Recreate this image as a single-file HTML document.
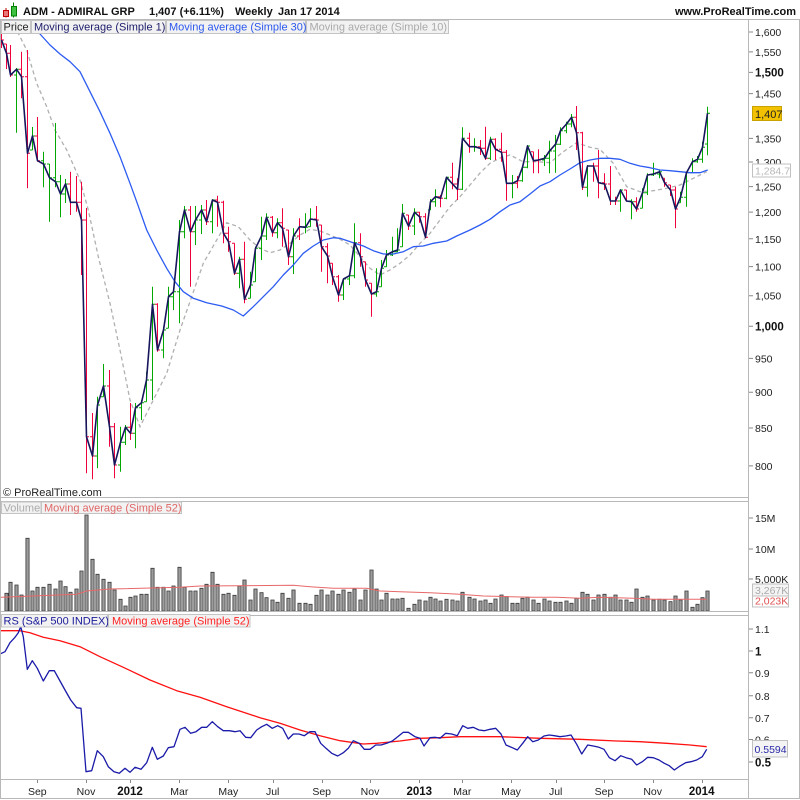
<!DOCTYPE html>
<html><head><meta charset="utf-8">
<style>
html,body{margin:0;padding:0;background:#fff;}
svg{display:block;font-family:"Liberation Sans",Arial,sans-serif;}
.ax{font-size:10.5px;fill:#222;}
.axb{font-size:11.5px;fill:#111;font-weight:bold;}
.lg{font-size:11px;}
</style></head>
<body>
<svg width="800" height="800" viewBox="0 0 800 800" xmlns="http://www.w3.org/2000/svg">
<defs>
<clipPath id="cp"><rect x="1" y="20" width="747" height="477"/></clipPath>
<clipPath id="cv"><rect x="1" y="502" width="747" height="109"/></clipPath>
<clipPath id="cr"><rect x="1" y="616" width="747" height="163"/></clipPath>
</defs>
<rect x="0" y="0" width="800" height="800" fill="#fff"/>

<!-- title -->
<line x1="6" y1="8" x2="6" y2="17.5" stroke="#c00000" stroke-width="1"/>
<rect x="3.5" y="10.5" width="5" height="6" fill="#e87878" stroke="#c00000" stroke-width="1"/>
<line x1="13.5" y1="2.5" x2="13.5" y2="17.5" stroke="#008000" stroke-width="1"/>
<rect x="11.5" y="6.5" width="5" height="9.5" fill="#40c040" stroke="#008000" stroke-width="1"/>
<text x="23" y="15" font-size="11" font-weight="bold" fill="#111">ADM - ADMIRAL GRP</text>
<text x="149" y="15" font-size="11" font-weight="bold" fill="#111">1,407 (+6.11%)</text>
<text x="235" y="15" font-size="11" font-weight="bold" fill="#111">Weekly</text>
<text x="278" y="15" font-size="11" font-weight="bold" fill="#111">Jan 17 2014</text>
<text x="796" y="15" font-size="11" font-weight="bold" fill="#111" text-anchor="end">www.ProRealTime.com</text>

<!-- frames -->
<g fill="none" stroke="#b8b8b8" stroke-width="1">
<line x1="0" y1="19.5" x2="800" y2="19.5"/>
<line x1="0.5" y1="19.5" x2="0.5" y2="798.5"/>
<line x1="799.5" y1="19.5" x2="799.5" y2="798.5"/>
<line x1="0" y1="798.5" x2="800" y2="798.5"/>
<line x1="748.5" y1="19.5" x2="748.5" y2="798.5"/>
<line x1="0" y1="497.5" x2="748.5" y2="497.5"/>
<line x1="0" y1="501.5" x2="748.5" y2="501.5"/>
<line x1="0" y1="611.5" x2="748.5" y2="611.5"/>
<line x1="0" y1="615.5" x2="748.5" y2="615.5"/>
<line x1="0" y1="779.5" x2="748.5" y2="779.5"/>
</g>

<!-- PRICE PANEL -->
<g clip-path="url(#cp)" fill="none">
<polyline stroke="#b0b0b0" stroke-width="1.3" stroke-dasharray="4 3" points="15,25 18.3,33.3 26.7,50 36.7,83.3 46.7,106.7 55,130 66.7,150 80,180 88.3,210 98.3,256.7 110,303.3 120,350 130,400 140,426.7 153.3,400 166.7,373.3 180,330 191.7,296.7 203.3,263.3 216.7,240 226.7,222.7 238.3,226.7 250,240 260,248.3 270,252.7 280,250 290,243.3 300,235 310,229.3 320,231 330,235 340,239.3 350,245 360,256.7 370,268.3 380,275 390,270 400,263.3 410,255 420,243.3 430,233.3 440,220 450,206.7 460,196.7 470,185 480,173 490,163.3 500,158 510,155 523,161.7 536.7,161.7 550,162.7 563.3,151.7 576.7,142.7 590,147.3 600,149.3 613.3,163.3 626.7,186.7 640,191.7 653.3,190.7 666.7,188.3 680,185 693.3,178.3 706.7,171.7"/>
<path stroke="#f0003c" stroke-width="1" d="M1.5 33V48M1.5 36h-2.5M1.5 40h2.5M6.5 44V69M6.5 44h-2.5M6.5 53.3h2.5M10.5 45V77M10.5 53.3h-2.5M10.5 75h2.5M21.5 51.7V98.3M21.5 69.3h-2.5M21.5 76.7h2.5M27.5 50V188.3M27.5 76.7h-2.5M27.5 153.3h2.5M37.5 117V161.7M37.5 136h-2.5M37.5 160.7h2.5M70.5 171.7V215M70.5 184h-2.5M70.5 202.3h2.5M76.5 176V211.7M76.5 202.3h-2.5M76.5 202.3h2.5M81.5 181.7V275M81.5 202.3h-2.5M81.5 220h2.5M86.5 208V473.3M86.5 220h-2.5M86.5 436.7h2.5M92.5 413V479.3M92.5 436.7h-2.5M92.5 456h2.5M109.5 370V446.7M109.5 386h-2.5M109.5 426.7h2.5M114.5 423V478.3M114.5 426.7h-2.5M114.5 465h2.5M130.5 403V440M130.5 427.3h-2.5M130.5 433.3h2.5M157.5 303.3V351.7M157.5 304.3h-2.5M157.5 350h2.5M190.5 206V286.7M190.5 210h-2.5M190.5 231.7h2.5M206.5 200V225M206.5 210h-2.5M206.5 221.7h2.5M217.5 195.7V226.7M217.5 200h-2.5M217.5 202.3h2.5M223.5 200.7V243.3M223.5 202.3h-2.5M223.5 233.3h2.5M228.5 226.7V251.7M228.5 233.3h-2.5M228.5 241.7h2.5M234.5 243.3V275M234.5 243.3h-2.5M234.5 273.3h2.5M244.5 241.7V303.3M244.5 259.3h-2.5M244.5 299.3h2.5M272.5 216V236.7M272.5 217.3h-2.5M272.5 232.7h2.5M282.5 208.3V246.7M282.5 222.7h-2.5M282.5 228.3h2.5M288.5 230V265M288.5 230h-2.5M288.5 256.7h2.5M299.5 218.3V240M299.5 236h-2.5M299.5 226.7h2.5M316.5 206V226.7M316.5 219h-2.5M316.5 220h2.5M321.5 225V271.7M321.5 225h-2.5M321.5 246.7h2.5M327.5 243.3V283.3M327.5 246.7h-2.5M327.5 256h2.5M332.5 263.3V285M332.5 263.3h-2.5M332.5 276.7h2.5M338.5 275V301.7M338.5 276.7h-2.5M338.5 295h2.5M360.5 233.3V266.7M360.5 242.7h-2.5M360.5 256.7h2.5M365.5 261.7V286.7M365.5 261.7h-2.5M365.5 280h2.5M371.5 283.3V316.7M371.5 283.3h-2.5M371.5 294h2.5M408.5 215V230M408.5 215h-2.5M408.5 226h2.5M419.5 211.7V222.7M419.5 212.3h-2.5M419.5 216.7h2.5M425.5 213.3V238.3M425.5 216.7h-2.5M425.5 237.3h2.5M440.5 195V207.3M440.5 196.7h-2.5M440.5 198.3h2.5M452.5 162.7V189.3M452.5 177.3h-2.5M452.5 184h2.5M457.5 178.3V200M457.5 184h-2.5M457.5 189.3h2.5M469.5 132.7V152.7M469.5 138.3h-2.5M469.5 146.7h2.5M480.5 140V155M480.5 146.7h-2.5M480.5 148.3h2.5M485.5 126.7V160M485.5 148.3h-2.5M485.5 158.3h2.5M495.5 138.3V160M495.5 139.3h-2.5M495.5 149.3h2.5M501.5 132.7V161.7M501.5 149.3h-2.5M501.5 152.3h2.5M506.5 150V200.7M506.5 152.3h-2.5M506.5 183.3h2.5M517.5 176V188.3M517.5 183.3h-2.5M517.5 180.7h2.5M533.5 151.7V173.3M533.5 151.7h-2.5M533.5 160.7h2.5M538.5 149.3V173.3M538.5 160.7h-2.5M538.5 160h2.5M576.5 106V150M576.5 117.3h-2.5M576.5 132.7h2.5M582.5 131.7V190M582.5 132.7h-2.5M582.5 187.3h2.5M593.5 162.7V181.7M593.5 166h-2.5M593.5 166h2.5M598.5 150V198.3M598.5 166h-2.5M598.5 182.7h2.5M604.5 173.3V190M604.5 182.7h-2.5M604.5 184h2.5M610.5 166V205M610.5 184h-2.5M610.5 201h2.5M615.5 196.7V205M615.5 201h-2.5M615.5 201h2.5M626.5 190V201.7M626.5 190h-2.5M626.5 201h2.5M636.5 197.3V211.7M636.5 201.7h-2.5M636.5 209h2.5M664.5 178.3V186.7M664.5 178.3h-2.5M664.5 182.7h2.5M670.5 185V196M670.5 185h-2.5M670.5 190h2.5M675.5 186.7V228.3M675.5 190h-2.5M675.5 209h2.5"/>
<path stroke="#00a800" stroke-width="1" d="M16.5 68V132.7M16.5 75h-2.5M16.5 69.3h2.5M32.5 127V150M32.5 150h-2.5M32.5 136h2.5M43.5 151.7V187.3M43.5 160.7h-2.5M43.5 164h2.5M49.5 164V221.7M49.5 164h-2.5M49.5 177.7h2.5M55.5 123V187.3M55.5 177.7h-2.5M55.5 181.7h2.5M60.5 175V217.3M60.5 181.7h-2.5M60.5 194h2.5M65.5 179V203M65.5 194h-2.5M65.5 184h2.5M97.5 396.7V468.3M97.5 456h-2.5M97.5 405h2.5M103.5 364V396.7M103.5 396.7h-2.5M103.5 386h2.5M120.5 426.7V471.7M120.5 465h-2.5M120.5 442.3h2.5M125.5 425V445M125.5 442.3h-2.5M125.5 427.3h2.5M135.5 403V448.3M135.5 433.3h-2.5M135.5 407.7h2.5M141.5 400V420M141.5 407.7h-2.5M141.5 402.7h2.5M146.5 371.7V401.7M146.5 401.7h-2.5M146.5 380h2.5M152.5 286.7V400M152.5 380h-2.5M152.5 304.3h2.5M163.5 326.7V358.3M163.5 350h-2.5M163.5 330h2.5M168.5 286.7V328.3M168.5 328.3h-2.5M168.5 296.7h2.5M173.5 288V310M173.5 296.7h-2.5M173.5 291.7h2.5M179.5 220V323.3M179.5 291.7h-2.5M179.5 231.7h2.5M184.5 206V238.3M184.5 231.7h-2.5M184.5 210h2.5M195.5 206V245M195.5 231.7h-2.5M195.5 220h2.5M201.5 205V234M201.5 220h-2.5M201.5 210h2.5M212.5 199.3V233.3M212.5 221.7h-2.5M212.5 200h2.5M239.5 256.7V288.3M239.5 273.3h-2.5M239.5 259.3h2.5M250.5 271.7V298.3M250.5 298.3h-2.5M250.5 285h2.5M255.5 246.7V281.7M255.5 281.7h-2.5M255.5 248.3h2.5M261.5 216.7V260M261.5 248.3h-2.5M261.5 236h2.5M266.5 213.3V240M266.5 236h-2.5M266.5 217.3h2.5M277.5 218.3V238.3M277.5 232.7h-2.5M277.5 222.7h2.5M293.5 228.3V274M293.5 256.7h-2.5M293.5 236h2.5M305.5 213.3V233.3M305.5 226.7h-2.5M305.5 227.3h2.5M310.5 208.3V226.7M310.5 226.7h-2.5M310.5 219h2.5M343.5 278.3V300M343.5 295h-2.5M343.5 279h2.5M349.5 273.3V285M349.5 279h-2.5M349.5 275.7h2.5M354.5 223.3V278.3M354.5 275.7h-2.5M354.5 242.7h2.5M376.5 268.3V296.7M376.5 294h-2.5M376.5 291.7h2.5M381.5 260V286.7M381.5 286.7h-2.5M381.5 268.3h2.5M386.5 250V266.7M386.5 266.7h-2.5M386.5 255h2.5M392.5 236.7V256M392.5 255h-2.5M392.5 251.7h2.5M397.5 228.3V252M397.5 251.7h-2.5M397.5 250h2.5M402.5 204V246.7M402.5 246.7h-2.5M402.5 213.3h2.5M414.5 208.3V235M414.5 226h-2.5M414.5 212.3h2.5M430.5 199V210M430.5 210h-2.5M430.5 201.7h2.5M435.5 189.3V206.7M435.5 201.7h-2.5M435.5 196.7h2.5M446.5 176.7V199.3M446.5 198.3h-2.5M446.5 177.3h2.5M462.5 127.3V190M462.5 189.3h-2.5M462.5 138.3h2.5M474.5 138.3V151.7M474.5 146.7h-2.5M474.5 146.7h2.5M490.5 136.7V160M490.5 158.3h-2.5M490.5 139.3h2.5M512.5 175V198.3M512.5 183.3h-2.5M512.5 183.3h2.5M522.5 166V181.7M522.5 180.7h-2.5M522.5 167.3h2.5M527.5 145V168.3M527.5 167.3h-2.5M527.5 146h2.5M544.5 155V166M544.5 160h-2.5M544.5 158.3h2.5M549.5 140.7V173.3M549.5 158.3h-2.5M549.5 151h2.5M555.5 135V172.7M555.5 151h-2.5M555.5 144.3h2.5M560.5 127.3V145M560.5 144.3h-2.5M560.5 130.7h2.5M566.5 121.7V133.3M566.5 130.7h-2.5M566.5 124h2.5M571.5 114V127.3M571.5 124h-2.5M571.5 117.3h2.5M587.5 165V196.7M587.5 187.3h-2.5M587.5 166h2.5M620.5 189.3V211.7M620.5 201h-2.5M620.5 190h2.5M631.5 199.3V219.3M631.5 201h-2.5M631.5 201.7h2.5M642.5 188.3V208.3M642.5 208.3h-2.5M642.5 192.7h2.5M647.5 173.3V195M647.5 192.7h-2.5M647.5 175h2.5M653.5 162.7V176M653.5 175h-2.5M653.5 174h2.5M659.5 170V178.3M659.5 174h-2.5M659.5 171.7h2.5M680.5 191.7V202.7M680.5 202.7h-2.5M680.5 197.3h2.5M686.5 171.7V206.7M686.5 197.3h-2.5M686.5 172.7h2.5M692.5 158.3V172.7M692.5 172.7h-2.5M692.5 161.7h2.5M697.5 156V162.7M697.5 161.7h-2.5M697.5 159.3h2.5M702.5 141.7V162.7M702.5 159.3h-2.5M702.5 147.3h2.5M707.5 106.7V155.3M707.5 144h-2.5M707.5 113.3h2.5"/>
<polyline stroke="#2c5cf2" stroke-width="1.3" stroke-linejoin="round" points="35,26 40,34 50,45 60,54 70,61.7 80,71.7 90,91.7 100,111.7 110,133.3 120,156.7 130,183.3 136.7,201.7 146.7,230 156.7,250 166.7,268.3 175,281.7 183.3,291.7 193.3,298.3 206.7,302.7 221.7,306 233.3,310 243.3,316 253.3,306.7 263.3,296.7 273.3,286.7 283.3,275 293.3,265 303.3,253.3 313.3,246 323.3,240 333.3,237.7 340,238.3 353.3,242.7 363.3,246 373.3,250.7 383.3,254 393.3,254 403.3,251.7 413.3,246.7 423.3,246 433.3,243.3 446.7,241 456.7,236 470,230 480,225 490,219.3 500,211.7 510,205 520,201.7 530,194 540,186 550,181.7 560,175 570,169 580,162.7 590,160 600,158.3 610,158.3 620,159.3 630,163.3 640,166 650,167.7 660,170 670,170.7 680,171.7 690,172.7 700,172.7 707.7,170"/>
<polyline stroke="#16165c" stroke-width="1.6" stroke-linejoin="round" points="1.5,40 6.5,53.3 10.5,75 16.5,69.3 21.5,76.7 27.5,153.3 32.5,136 37.5,160.7 43.5,164 49.5,177.7 55.5,181.7 60.5,194 65.5,184 70.5,202.3 76.5,202.3 81.5,220 86.5,436.7 92.5,456 97.5,405 103.5,386 109.5,426.7 114.5,465 120.5,442.3 125.5,427.3 130.5,433.3 135.5,407.7 141.5,402.7 146.5,380 152.5,304.3 157.5,350 163.5,330 168.5,296.7 173.5,291.7 179.5,231.7 184.5,210 190.5,231.7 195.5,220 201.5,210 206.5,221.7 212.5,200 217.5,202.3 223.5,233.3 228.5,241.7 234.5,273.3 239.5,259.3 244.5,299.3 250.5,285 255.5,248.3 261.5,236 266.5,217.3 272.5,232.7 277.5,222.7 282.5,228.3 288.5,256.7 293.5,236 299.5,226.7 305.5,227.3 310.5,219 316.5,220 321.5,246.7 327.5,256 332.5,276.7 338.5,295 343.5,279 349.5,275.7 354.5,242.7 360.5,256.7 365.5,280 371.5,294 376.5,291.7 381.5,268.3 386.5,255 392.5,251.7 397.5,250 402.5,213.3 408.5,226 414.5,212.3 419.5,216.7 425.5,237.3 430.5,201.7 435.5,196.7 440.5,198.3 446.5,177.3 452.5,184 457.5,189.3 462.5,138.3 469.5,146.7 474.5,146.7 480.5,148.3 485.5,158.3 490.5,139.3 495.5,149.3 501.5,152.3 506.5,183.3 512.5,183.3 517.5,180.7 522.5,167.3 527.5,146 533.5,160.7 538.5,160 544.5,158.3 549.5,151 555.5,144.3 560.5,130.7 566.5,124 571.5,117.3 576.5,132.7 582.5,187.3 587.5,166 593.5,166 598.5,182.7 604.5,184 610.5,201 615.5,201 620.5,190 626.5,201 631.5,201.7 636.5,209 642.5,192.7 647.5,175 653.5,174 659.5,171.7 664.5,182.7 670.5,190 675.5,209 680.5,197.3 686.5,172.7 692.5,161.7 697.5,159.3 702.5,147.3 707.5,113.3"/>
</g>

<!-- VOLUME PANEL -->
<g clip-path="url(#cv)">
<path fill="#9c9c9c" stroke="#3a3a3a" stroke-width="0.8" d="M4.9 611V593.3h3.2V611zM8.9 611V582.3h3.2V611zM14.9 611V585h3.2V611zM19.9 611V595h3.2V611zM25.9 611V538.3h3.2V611zM30.9 611V591h3.2V611zM35.9 611V587.3h3.2V611zM41.9 611V587.3h3.2V611zM47.9 611V584.3h3.2V611zM53.9 611V589h3.2V611zM58.9 611V581h3.2V611zM63.9 611V586.7h3.2V611zM68.9 611V592.3h3.2V611zM74.9 611V589h3.2V611zM79.9 611V571h3.2V611zM84.9 611V515h3.2V611zM90.9 611V559.3h3.2V611zM95.9 611V574.3h3.2V611zM101.9 611V579.3h3.2V611zM107.9 611V582.3h3.2V611zM112.9 611V590h3.2V611zM118.9 611V599.3h3.2V611zM123.9 611V606h3.2V611zM128.9 611V597.3h3.2V611zM133.9 611V596h3.2V611zM139.9 611V594.3h3.2V611zM144.9 611V594.3h3.2V611zM150.9 611V568.3h3.2V611zM155.9 611V587.3h3.2V611zM161.9 611V587.3h3.2V611zM166.9 611V591h3.2V611zM171.9 611V586h3.2V611zM177.9 611V567.3h3.2V611zM182.9 611V587.3h3.2V611zM188.9 611V591h3.2V611zM193.9 611V591h3.2V611zM199.9 611V588.3h3.2V611zM204.9 611V584.3h3.2V611zM210.9 611V572.3h3.2V611zM215.9 611V584.3h3.2V611zM221.9 611V594.3h3.2V611zM226.9 611V593.3h3.2V611zM232.9 611V595.3h3.2V611zM237.9 611V586h3.2V611zM242.9 611V580h3.2V611zM248.9 611V600h3.2V611zM253.9 611V589h3.2V611zM259.9 611V592.7h3.2V611zM264.9 611V597.7h3.2V611zM270.9 611V600h3.2V611zM275.9 611V602.3h3.2V611zM280.9 611V593.3h3.2V611zM286.9 611V598.3h3.2V611zM291.9 611V590h3.2V611zM297.9 611V603.3h3.2V611zM303.9 611V603.3h3.2V611zM308.9 611V604.3h3.2V611zM314.9 611V595.3h3.2V611zM319.9 611V590h3.2V611zM325.9 611V595h3.2V611zM330.9 611V591h3.2V611zM336.9 611V594.3h3.2V611zM341.9 611V590h3.2V611zM347.9 611V592.3h3.2V611zM352.9 611V589h3.2V611zM358.9 611V600h3.2V611zM363.9 611V590h3.2V611zM369.9 611V570h3.2V611zM374.9 611V589h3.2V611zM379.9 611V600h3.2V611zM384.9 611V593.3h3.2V611zM390.9 611V599h3.2V611zM395.9 611V599h3.2V611zM400.9 611V598.3h3.2V611zM406.9 611V608.3h3.2V611zM412.9 611V604.3h3.2V611zM417.9 611V600h3.2V611zM423.9 611V601h3.2V611zM428.9 611V597.3h3.2V611zM433.9 611V599h3.2V611zM438.9 611V601h3.2V611zM444.9 611V599.3h3.2V611zM450.9 611V600h3.2V611zM455.9 611V601h3.2V611zM460.9 611V592.3h3.2V611zM467.9 611V597.3h3.2V611zM472.9 611V599h3.2V611zM478.9 611V601h3.2V611zM483.9 611V600h3.2V611zM488.9 611V603.3h3.2V611zM493.9 611V599h3.2V611zM499.9 611V595h3.2V611zM504.9 611V596.7h3.2V611zM510.9 611V603.3h3.2V611zM515.9 611V603.3h3.2V611zM520.9 611V598.3h3.2V611zM525.9 611V597.3h3.2V611zM531.9 611V600h3.2V611zM536.9 611V603.3h3.2V611zM542.9 611V599h3.2V611zM547.9 611V601h3.2V611zM553.9 611V602.3h3.2V611zM558.9 611V602.3h3.2V611zM564.9 611V601h3.2V611zM569.9 611V603.3h3.2V611zM574.9 611V598.3h3.2V611zM580.9 611V592.3h3.2V611zM585.9 611V594.3h3.2V611zM591.9 611V600h3.2V611zM596.9 611V595h3.2V611zM602.9 611V594.3h3.2V611zM608.9 611V597.3h3.2V611zM613.9 611V595h3.2V611zM618.9 611V600h3.2V611zM624.9 611V600h3.2V611zM629.9 611V602.3h3.2V611zM634.9 611V589h3.2V611zM640.9 611V597.3h3.2V611zM645.9 611V596h3.2V611zM651.9 611V600h3.2V611zM657.9 611V599.3h3.2V611zM662.9 611V600h3.2V611zM668.9 611V601.7h3.2V611zM673.9 611V596h3.2V611zM678.9 611V600h3.2V611zM684.9 611V591h3.2V611zM690.9 611V607.3h3.2V611zM695.9 611V604.3h3.2V611zM700.9 611V597.7h3.2V611zM705.9 611V591h3.2V611z"/>
<polyline fill="none" stroke="#e86868" stroke-width="1" points="0,597.3 76.7,594.3 86.7,591 110,589 180,587.3 200,586 293.3,585.3 310,586.7 333.3,588.3 366.7,588.3 380,591 400,591.7 430,592.7 460,594.3 483.3,596 510,596.7 533.3,597.3 556.7,597.3 580,598.3 600,597.3 633.3,598.3 653.3,599.3 706.7,599.3"/>
</g>

<!-- RS PANEL -->
<g clip-path="url(#cr)" fill="none" stroke-linejoin="round">
<polyline stroke="#ff1010" stroke-width="1.3" points="0,630.7 20,630.7 30,632.7 43.3,637.3 60,640.7 80,646.7 100,656.7 123.3,667.3 150,680 176.7,690.7 200,697.3 226.7,706.7 260,717.7 280,723.3 300,730 320,735.7 340,740.7 363.3,744 376.7,743.3 400,741 420,738.3 440,737.7 460,736.7 500,736.7 540,738.3 580,739.3 616.7,741 640,741.7 666.7,743.3 690,745 706.7,746.7"/>
<polyline stroke="#1a1aa8" stroke-width="1.3" points="0,654 5,651.7 10,642.7 15,637.3 18.3,632.7 20.7,626.7 23.3,636.7 27.3,669.3 32.3,660.7 37.3,668.3 43.3,681 49.3,670.7 54.3,670.7 60,681 65,690 70.7,700 76.7,707.7 81,708.3 86,771.7 91.7,770.7 97.3,750.7 103.3,756.7 108.3,766.7 114,771.7 119.3,773.3 125,768.3 130,772.3 135,767.3 141,769.3 146.7,762.7 152.3,747.3 157.3,759.3 163.3,756 168.3,747.7 174,746.7 180,729.3 185,727.3 190.7,733.3 196,731.7 201.7,727.3 206.7,727.3 212.3,721.7 217.7,726.7 223.3,730.7 229.3,730.7 235,731.7 240,730.7 245.7,737.3 250.7,737.7 256.7,730 261.7,726.7 266.7,724.3 272.3,728.3 277.7,725.7 282.7,728.3 288.3,739 293.3,734 299,734 304.3,735.7 310,731.7 315,731.7 320.7,743.3 326,748.3 331.7,753.3 337.7,756 343.3,752.7 348.3,748.3 353.3,740.7 359.3,743.3 364.3,749.3 370,749.3 375.7,745 381,745 386.7,743.3 392.3,741 397.7,736.7 403.3,732.3 408.3,732.3 415,736.7 420,738.3 424,746 430,737.7 435,737.3 440,738.3 445.7,733.3 451.7,734 457.3,735.7 462.7,725.7 467.7,728.3 473.3,727.3 479,730 484.3,730.7 490,729.3 495.7,728.3 501,734 506,745 512.3,747.7 517.3,750 522.7,743.3 527.7,736.7 532.7,741.7 538.3,740 544,736 549.3,735 554.3,735.7 560,736.7 565.7,736 571,735 576.7,744.3 581.7,754 587.7,745 593.3,746 599,747.3 604,749.3 609.3,757.7 615,760.7 620.7,755.7 626,757.7 631.7,759.3 636.7,765 642.3,761.7 647.7,757.3 653.3,757.7 659,760 664.3,763.3 669.3,765.7 674.3,770 680,766 685.7,762.7 691,761.7 696.7,760 702.3,756.7 706.7,749.3"/>
</g>

<!-- ticks -->
<path fill="none" stroke="#888" stroke-width="1" d="M749 32H753M749 51.9H753M749 72.4H753M749 93.6H753M749 138.4H753M749 162H753M749 186.6H753M749 212.1H753M749 238.8H753M749 266.6H753M749 295.7H753M749 326.2H753M749 358.4H753M749 392.2H753M749 428H753M749 465.9H753M749 518H753M749 549H753M749 579H753M749 629H753M749 651H753M749 672.7H753M749 695.7H753M749 717.7H753M749 739.5H753M749 762H753M37.5 780V783M86.5 780V783M130.5 780V783M179.5 780V783M228.5 780V783M273.5 780V783M322.5 780V783M370.5 780V783M419.5 780V783M462.5 780V783M511.5 780V783M556.5 780V783M604.5 780V783M653.5 780V783M702.5 780V783"/>

<!-- price legend -->
<g class="lg">
<rect x="1.5" y="20.5" width="29" height="13" fill="#f2f2f2" stroke="#c4c4c4"/>
<text x="3.5" y="30.5" fill="#222">Price</text>
<rect x="31.5" y="20.5" width="134" height="13" fill="#f2f2f2" stroke="#c4c4c4"/>
<text x="34" y="30.5" fill="#1c1c6c">Moving average (Simple 1)</text>
<rect x="166.5" y="20.5" width="139" height="13" fill="#f2f2f2" stroke="#c4c4c4"/>
<text x="169" y="30.5" fill="#2c58ee">Moving average (Simple 30)</text>
<rect x="306.5" y="20.5" width="142" height="13" fill="#f2f2f2" stroke="#c4c4c4"/>
<text x="309.5" y="30.5" fill="#aaaaaa">Moving average (Simple 10)</text>
<text x="3" y="496" fill="#222">© ProRealTime.com</text>
</g>

<!-- volume legend -->
<g class="lg">
<rect x="1.5" y="502" width="39.5" height="11.5" fill="#f2f2f2" stroke="#c4c4c4"/>
<text x="3.5" y="511.5" fill="#ababab">Volume</text>
<rect x="41.5" y="502" width="140" height="11.5" fill="#f2f2f2" stroke="#c4c4c4"/>
<text x="44" y="511.5" fill="#e06666">Moving average (Simple 52)</text>
</g>

<!-- RS legend -->
<g class="lg">
<rect x="1.5" y="614.5" width="106" height="12.5" fill="#f2f2f2" stroke="#c4c4c4"/>
<text x="3.5" y="624.5" fill="#1a1a9a">RS (S&amp;P 500 INDEX)</text>
<rect x="108.5" y="614.5" width="141.5" height="12.5" fill="#f2f2f2" stroke="#c4c4c4"/>
<text x="112" y="624.5" fill="#ff2020">Moving average (Simple 52)</text>
</g>

<!-- price axis labels -->
<text class="ax" x="755" y="36">1,600</text>
<text class="ax" x="755" y="56">1,550</text>
<text class="axb" x="755" y="76.5">1,500</text>
<text class="ax" x="755" y="97.5">1,450</text>
<text class="ax" x="755" y="142.5">1,350</text>
<text class="ax" x="755" y="166">1,300</text>
<text class="ax" x="755" y="190.5">1,250</text>
<text class="ax" x="755" y="216">1,200</text>
<text class="ax" x="755" y="243">1,150</text>
<text class="ax" x="755" y="270.5">1,100</text>
<text class="ax" x="755" y="299.5">1,050</text>
<text class="axb" x="755" y="330.5">1,000</text>
<text class="ax" x="755" y="362.5">950</text>
<text class="ax" x="755" y="396">900</text>
<text class="ax" x="755" y="432">850</text>
<text class="ax" x="755" y="470">800</text>

<rect x="752.5" y="106.5" width="29" height="14" fill="#f2c200" stroke="#c9a200"/>
<text x="755" y="118" font-size="11" fill="#222">1,407</text>
<rect x="752.5" y="164" width="38" height="13" fill="#fff" stroke="#c0c0c0"/>
<text x="755" y="174.5" font-size="10.5" fill="#b8b8b8">1,284.7</text>

<!-- volume axis -->
<text class="ax" x="755" y="522">15M</text>
<text class="ax" x="755" y="553">10M</text>
<text class="ax" x="755" y="583">5,000K</text>
<rect x="752.5" y="595" width="36" height="12" fill="#fff" stroke="#c0c0c0"/>
<text x="755" y="604.5" font-size="10.5" fill="#e05050">2,023K</text>
<rect x="752.5" y="584" width="36" height="12" fill="#f4f4f4" stroke="#c0c0c0"/>
<text x="755" y="594" font-size="10.5" fill="#aaaaaa">3,267K</text>

<!-- RS axis -->
<text class="ax" x="755" y="633">1.1</text>
<text class="axb" x="755" y="655.5">1</text>
<text class="ax" x="755" y="677">0.9</text>
<text class="ax" x="755" y="700">0.8</text>
<text class="ax" x="755" y="722">0.7</text>
<text class="ax" x="755" y="743.5">0.6</text>
<text class="axb" x="755" y="766.5">0.5</text>
<rect x="752.5" y="740.5" width="35" height="16.5" fill="#f4f4f4" stroke="#c0c0c0"/>
<text x="754.5" y="753" font-size="10.5" fill="#2a2aaa">0.5594</text>

<!-- x axis -->
<g class="ax" text-anchor="middle">
<text x="37.3" y="795">Sep</text>
<text x="86" y="795">Nov</text>
<text class="axb" x="130" y="795">2012</text>
<text x="179.3" y="795">Mar</text>
<text x="228.3" y="795">May</text>
<text x="272.7" y="795">Jul</text>
<text x="321.7" y="795">Sep</text>
<text x="370" y="795">Nov</text>
<text class="axb" x="419.3" y="795">2013</text>
<text x="462.3" y="795">Mar</text>
<text x="511" y="795">May</text>
<text x="555.7" y="795">Jul</text>
<text x="604" y="795">Sep</text>
<text x="652.7" y="795">Nov</text>
<text class="axb" x="701.7" y="795">2014</text>
</g>
</svg>
</body></html>
